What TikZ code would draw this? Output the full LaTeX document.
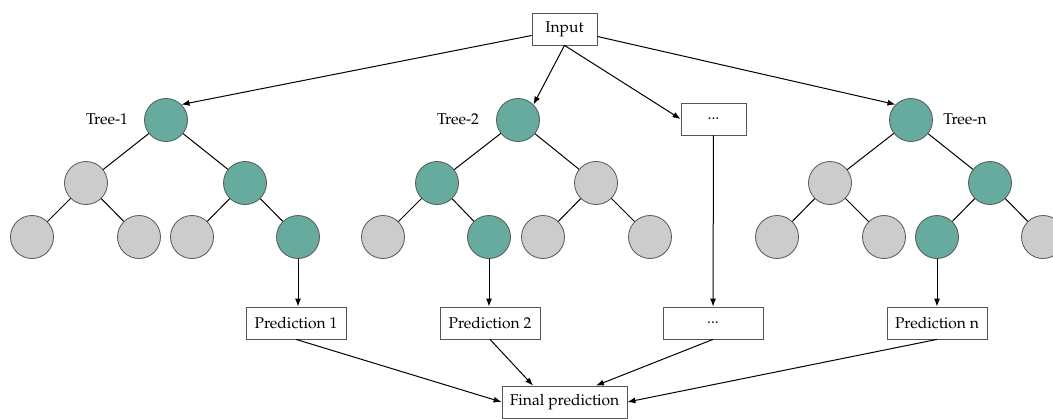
\documentclass[tikz,border=0pt]{standalone}
\usepackage[T1]{fontenc}
\usepackage{mathpazo}
\usetikzlibrary{arrows.meta,calc}
\definecolor{teal1}{HTML}{67AB9F}
\definecolor{gray1}{HTML}{CCCCCC}
\definecolor{bord}{HTML}{555555}
\begin{document}
\begin{tikzpicture}[x=1pt,y=-1pt,
  tnode/.style={circle,draw=bord,fill=teal1,minimum size=43pt,inner sep=0pt,line width=0.8pt},
  gnode/.style={circle,draw=bord,fill=gray1,minimum size=43pt,inner sep=0pt,line width=0.8pt},
  box/.style={draw=bord,fill=white,minimum width=#1,minimum height=32pt,inner sep=0pt,line width=0.8pt,font=\fontsize{15.6}{18}\selectfont},
  box/.default=100pt,
  lbl/.style={font=\fontsize{15.6}{18}\selectfont},
  edge/.style={draw=black,line width=1pt},
  arr/.style={edge,-{Latex[length=8pt,width=6pt]}}]
\useasboundingbox (0,0) rectangle (1053,418);

% input
\node[box=65pt] (in) at (564.5,29) {Input};

% tree 1
\node[tnode] (t1) at (166,120) {};
\node[gnode] (t1l) at (86,183) {};
\node[tnode] (t1r) at (245,183) {};
\node[gnode] (t1ll) at (32,237) {};
\node[gnode] (t1lr) at (139,237) {};
\node[gnode] (t1rl) at (192,237) {};
\node[tnode] (t1rr) at (298,237) {};
\node[lbl] (l1) at (107,119) {Tree-1};

% tree 2
\node[tnode] (t2) at (518,120) {};
\node[tnode] (t2l) at (437,183) {};
\node[gnode] (t2r) at (596,183) {};
\node[gnode] (t2ll) at (383,237) {};
\node[tnode] (t2lr) at (489,237) {};
\node[gnode] (t2rl) at (543,237) {};
\node[gnode] (t2rr) at (650,237) {};
\node[lbl] (l2) at (458,119) {Tree-2};

% tree n
\node[tnode] (tn) at (911,120) {};
\node[gnode] (tnl) at (830,183) {};
\node[tnode] (tnr) at (990,183) {};
\node[gnode] (tnll) at (777,237) {};
\node[gnode] (tnlr) at (884,237) {};
\node[tnode] (tnrl) at (937,237) {};
\node[gnode] (tnrr) at (1043,237) {};
\node[lbl] (ln) at (965,119) {Tree-n};

% dots
\node[box=65pt] (d1) at (713.5,119) {...};

% predictions
\node[box] (p1) at (296,323) {Prediction 1};
\node[box] (p2) at (490,323) {Prediction 2};
\node[box] (pd) at (713,323) {...};
\node[box] (pn) at (937,323) {Prediction n};
\node[box=125pt] (fin) at (564.5,402) {Final prediction};

% input arrows
\draw[arr] (in) -- (t1.north east);
\draw[arr] (in.south) -- (t2.north east);
\draw[arr] (in.south) -- (d1.west);
\draw[arr] (in) -- (tn.north west);

% tree edges
\foreach \a/\b in {t1/t1l,t1/t1r,t1l/t1ll,t1l/t1lr,t1r/t1rl,t1r/t1rr,
                   t2/t2l,t2/t2r,t2l/t2ll,t2l/t2lr,t2r/t2rl,t2r/t2rr,
                   tn/tnl,tn/tnr,tnl/tnll,tnl/tnlr,tnr/tnrl,tnr/tnrr}
  \draw[edge] (\a) -- (\b);

% to predictions
\draw[arr] (t1rr) -- (t1rr |- p1.north);
\draw[arr] (t2lr) -- (t2lr |- p2.north);
\draw[arr] (d1) -- (pd);
\draw[arr] (tnrl) -- (tnrl |- pn.north);

% to final
\draw[arr] (p1.south) -- (fin.west);
\draw[arr] (p2.south) -- ($(fin.north)!0.5!(fin.north west)$);
\draw[arr] (pd.south) -- ($(fin.north)!0.5!(fin.north east)$);
\draw[arr] (pn.south) -- (fin.east);
\end{tikzpicture}
\end{document}
